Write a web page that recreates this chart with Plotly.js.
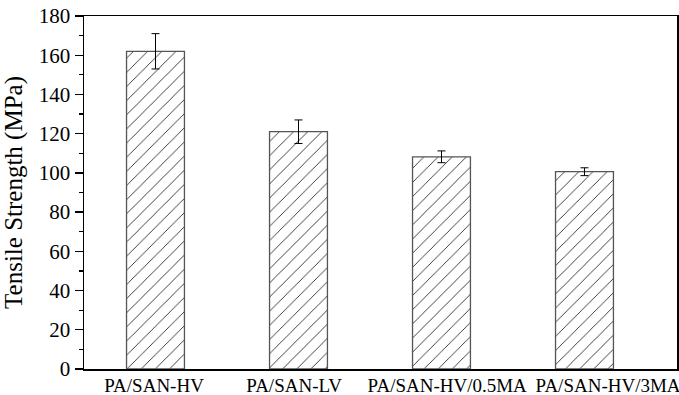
<!DOCTYPE html>
<html>
<head>
<meta charset="utf-8">
<script src="https://cdn.plot.ly/plotly-3.0.1.min.js"></script>
<style>
  html, body { margin: 0; padding: 0; background: #fff; }
  #chart { width: 679px; height: 395px; }
</style>
</head>
<body>
<div id="chart"></div>
<script>
// Tensile strength of the PA/SAN blends (MPa), mean and standard deviation
const categories = ['PA/SAN-HV', 'PA/SAN-LV', 'PA/SAN-HV/0.5MA', 'PA/SAN-HV/3MA'];
const strength = [162, 121, 108.2, 100.6];
const strengthErr = [9, 6, 3, 2];
const yTicks = [0, 20, 40, 60, 80, 100, 120, 140, 160, 180];

// Sample labels sit a little off-centre under their bars
const labelOffset = [-0.01, -0.03, 0.04, 0.165];

const serif = '"Liberation Serif", "Times New Roman", serif';
const idx = categories.map((_, i) => i);

const trace = {
  type: 'bar',
  x: idx,
  y: strength,
  width: 0.405,
  marker: {
    color: '#ffffff',
    line: { color: '#555555', width: 1.3 },
    pattern: { shape: '/', fgcolor: '#111111', bgcolor: '#ffffff', size: 10, solidity: 0.08 }
  },
  error_y: { type: 'data', array: strengthErr, visible: true, color: '#000000', thickness: 1, width: 4 },
  hoverinfo: 'skip'
};

const layout = {
  width: 679,
  height: 395,
  margin: { l: 84, r: 2, t: 16, b: 26 },
  paper_bgcolor: '#ffffff',
  plot_bgcolor: '#ffffff',
  showlegend: false,
  font: { family: serif, color: '#000000' },
  xaxis: {
    range: [-0.5, 3.647],
    tickmode: 'array',
    tickvals: idx.map((i) => i + labelOffset[i]),
    ticktext: categories,
    ticks: '',
    ticklabelstandoff: -1,
    ticklabeloverflow: 'allow',
    tickfont: { family: serif, size: 19, color: '#000000' },
    showgrid: false,
    zeroline: false,
    showline: true,
    linecolor: '#000000',
    linewidth: 1.5,
    mirror: true
  },
  yaxis: {
    range: [0, 180],
    tickmode: 'array',
    tickvals: yTicks,
    ticktext: yTicks.map(String),
    ticks: 'outside',
    ticklen: 8,
    tickwidth: 1.3,
    tickcolor: '#000000',
    minor: { tickvals: [10, 30, 50, 70, 90, 110, 130, 150, 170], ticks: 'outside', ticklen: 4, tickwidth: 1.2, tickcolor: '#000000', showgrid: false },
    tickfont: { family: serif, size: 21, color: '#000000' },
    showgrid: false,
    zeroline: false,
    showline: true,
    linecolor: '#000000',
    linewidth: 1.5,
    mirror: true,
    title: { text: 'Tensile Strength (MPa)', font: { family: serif, size: 25, color: '#000000' }, standoff: 10 },
    automargin: false
  }
};

Plotly.newPlot('chart', [trace], layout, { displayModeBar: false, staticPlot: true });
</script>
</body>
</html>
